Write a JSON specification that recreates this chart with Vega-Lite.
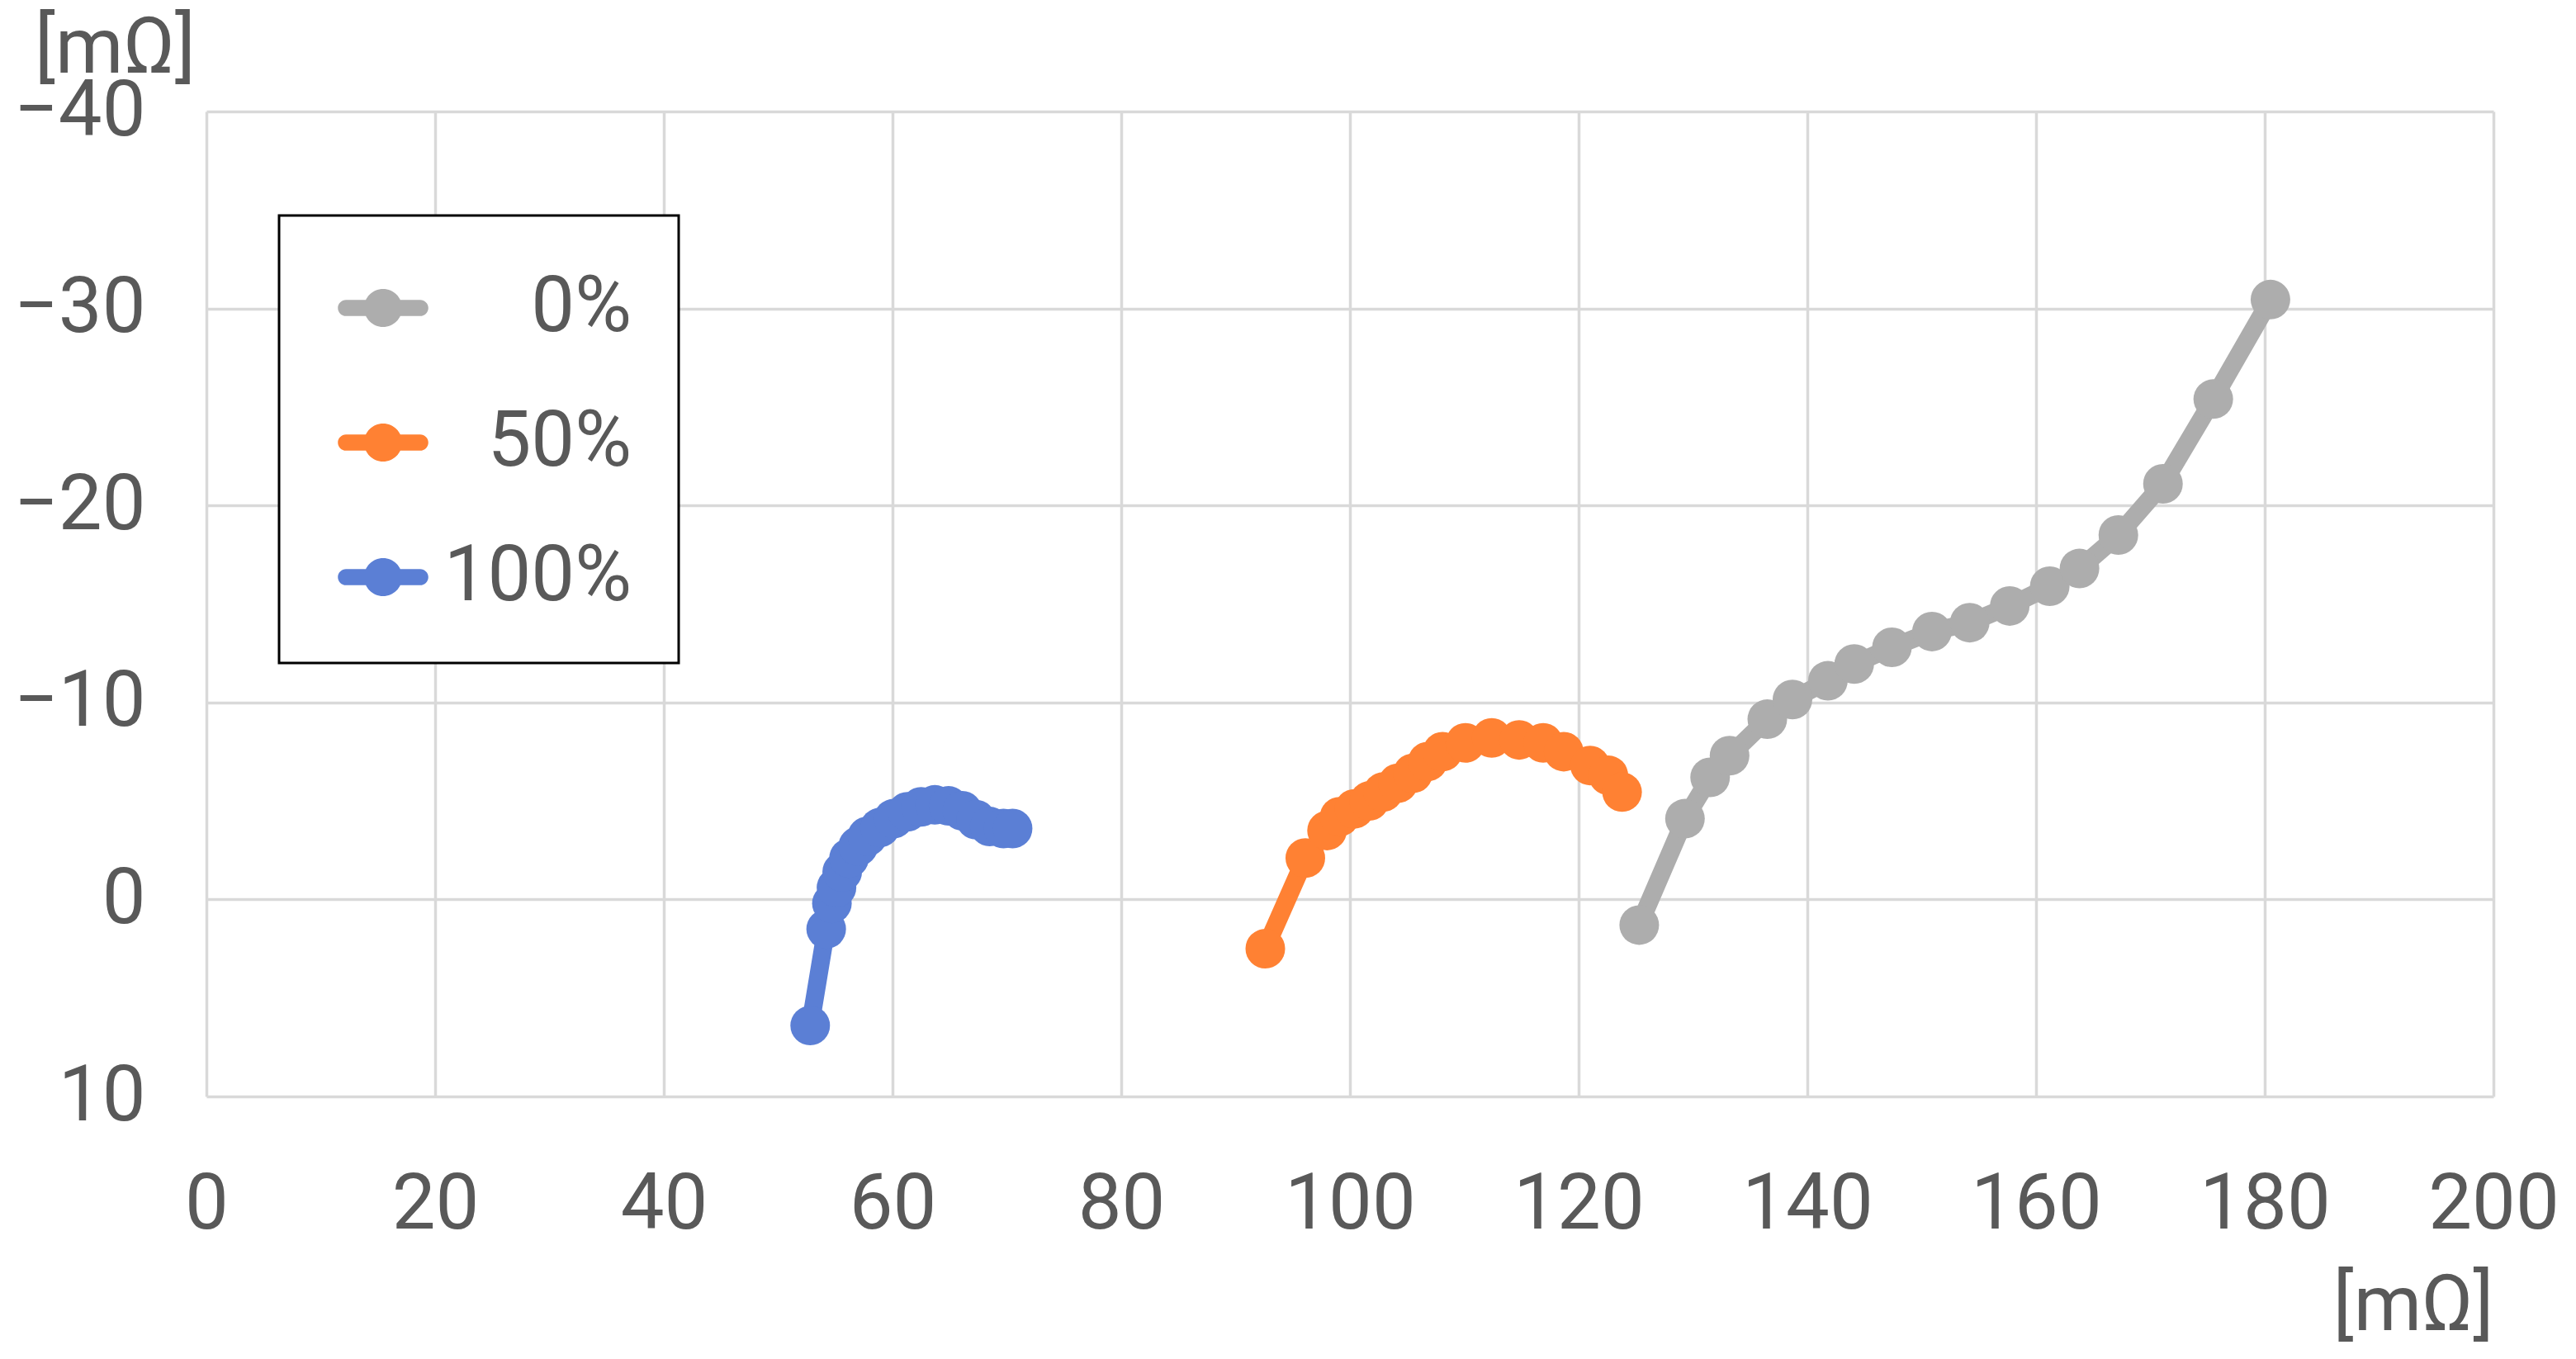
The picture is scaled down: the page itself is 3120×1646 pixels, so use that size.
{
  "$schema": "https://vega.github.io/schema/vega-lite/v6.json",
  "width": 2770,
  "height": 1193,
  "autosize": {"type": "none"},
  "padding": {"left": 250, "top": 135, "right": 100, "bottom": 318},
  "background": "#FFFFFF",
  "config": {"view": {"stroke": null}, "font": "Roboto"},
  "data": {
    "values": [
      {"s": "0%", "i": 1, "x": 125.3, "y": 1.3},
      {"s": "0%", "i": 2, "x": 129.3, "y": -4.1},
      {"s": "0%", "i": 3, "x": 131.5, "y": -6.2},
      {"s": "0%", "i": 4, "x": 133.2, "y": -7.3},
      {"s": "0%", "i": 5, "x": 136.5, "y": -9.15},
      {"s": "0%", "i": 6, "x": 138.7, "y": -10.15},
      {"s": "0%", "i": 7, "x": 141.8, "y": -11.1},
      {"s": "0%", "i": 8, "x": 144.1, "y": -11.95},
      {"s": "0%", "i": 9, "x": 147.4, "y": -12.8},
      {"s": "0%", "i": 10, "x": 150.9, "y": -13.6},
      {"s": "0%", "i": 11, "x": 154.2, "y": -14.05},
      {"s": "0%", "i": 12, "x": 157.7, "y": -14.9},
      {"s": "0%", "i": 13, "x": 161.2, "y": -15.9},
      {"s": "0%", "i": 14, "x": 163.8, "y": -16.8},
      {"s": "0%", "i": 15, "x": 167.2, "y": -18.5},
      {"s": "0%", "i": 16, "x": 171.1, "y": -21.1},
      {"s": "0%", "i": 17, "x": 175.5, "y": -25.4},
      {"s": "0%", "i": 18, "x": 180.5, "y": -30.45},
      {"s": "50%", "i": 1, "x": 92.6, "y": 2.5},
      {"s": "50%", "i": 2, "x": 96.1, "y": -2.1},
      {"s": "50%", "i": 3, "x": 98.0, "y": -3.5},
      {"s": "50%", "i": 4, "x": 99.1, "y": -4.2},
      {"s": "50%", "i": 5, "x": 100.4, "y": -4.6},
      {"s": "50%", "i": 6, "x": 101.7, "y": -5.0},
      {"s": "50%", "i": 7, "x": 102.9, "y": -5.45},
      {"s": "50%", "i": 8, "x": 104.2, "y": -5.9},
      {"s": "50%", "i": 9, "x": 105.5, "y": -6.4},
      {"s": "50%", "i": 10, "x": 106.8, "y": -7.0},
      {"s": "50%", "i": 11, "x": 108.1, "y": -7.5},
      {"s": "50%", "i": 12, "x": 110.1, "y": -7.95},
      {"s": "50%", "i": 13, "x": 112.4, "y": -8.2},
      {"s": "50%", "i": 14, "x": 114.8, "y": -8.1},
      {"s": "50%", "i": 15, "x": 116.9, "y": -7.95},
      {"s": "50%", "i": 16, "x": 118.7, "y": -7.5},
      {"s": "50%", "i": 17, "x": 121.0, "y": -6.8},
      {"s": "50%", "i": 18, "x": 122.6, "y": -6.3},
      {"s": "50%", "i": 19, "x": 123.8, "y": -5.45},
      {"s": "100%", "i": 1, "x": 52.8, "y": 6.4},
      {"s": "100%", "i": 2, "x": 54.2, "y": 1.5},
      {"s": "100%", "i": 3, "x": 54.7, "y": 0.2},
      {"s": "100%", "i": 4, "x": 55.1, "y": -0.6},
      {"s": "100%", "i": 5, "x": 55.6, "y": -1.4},
      {"s": "100%", "i": 6, "x": 56.2, "y": -2.1},
      {"s": "100%", "i": 7, "x": 57.0, "y": -2.7},
      {"s": "100%", "i": 8, "x": 57.8, "y": -3.2},
      {"s": "100%", "i": 9, "x": 58.9, "y": -3.65},
      {"s": "100%", "i": 10, "x": 60.1, "y": -4.1},
      {"s": "100%", "i": 11, "x": 61.3, "y": -4.45},
      {"s": "100%", "i": 12, "x": 62.5, "y": -4.7},
      {"s": "100%", "i": 13, "x": 63.7, "y": -4.8},
      {"s": "100%", "i": 14, "x": 64.9, "y": -4.75},
      {"s": "100%", "i": 15, "x": 66.1, "y": -4.5},
      {"s": "100%", "i": 16, "x": 67.3, "y": -4.05},
      {"s": "100%", "i": 17, "x": 68.5, "y": -3.7},
      {"s": "100%", "i": 18, "x": 69.7, "y": -3.6},
      {"s": "100%", "i": 19, "x": 70.5, "y": -3.6}
    ]
  },
  "encoding": {
    "x": {
      "field": "x",
      "type": "quantitative",
      "scale": {"domain": [0, 200], "nice": false, "zero": false},
      "axis": {
        "values": [0, 20, 40, 60, 80, 100, 120, 140, 160, 180, 200],
        "grid": true,
        "gridColor": "#D9D9D9",
        "gridWidth": 3.5,
        "domain": false,
        "ticks": false,
        "labelFontSize": 94,
        "labelColor": "#595959",
        "labelPadding": 85,
        "labelFlush": false,
        "labelOverlap": false,
        "title": "[mΩ]",
        "titleFontSize": 94,
        "titleFontWeight": "normal",
        "titleColor": "#595959",
        "titleAnchor": "end",
        "titleAlign": "right",
        "titleBaseline": "alphabetic",
        "titleY": 282
      }
    },
    "y": {
      "field": "y",
      "type": "quantitative",
      "scale": {"domain": [-40, 10], "reverse": true, "nice": false, "zero": false},
      "axis": {
        "values": [-40, -30, -20, -10, 0, 10],
        "grid": true,
        "gridColor": "#D9D9D9",
        "gridWidth": 3.5,
        "domain": false,
        "ticks": false,
        "labelFontSize": 94,
        "labelColor": "#595959",
        "labelPadding": 74,
        "labelFlush": false,
        "labelOverlap": false,
        "title": "[mΩ]",
        "titleFontSize": 94,
        "titleFontWeight": "normal",
        "titleColor": "#595959",
        "titleAngle": 0,
        "titleAlign": "center",
        "titleBaseline": "alphabetic",
        "titleX": -111,
        "titleY": -48
      }
    },
    "color": {
      "field": "s",
      "type": "nominal",
      "scale": {"domain": ["0%", "50%", "100%"], "range": ["#ADADAD", "#FF8133", "#5B7FD5"]},
      "legend": {
        "orient": "none",
        "legendX": 88,
        "legendY": 126,
        "direction": "vertical",
        "title": null,
        "symbolType": "M-0.82,-0.18 L0.82,-0.18 A0.18,0.18 0 0,1 0.82,0.18 L-0.82,0.18 A0.18,0.18 0 0,1 -0.82,-0.18 Z M-0.42,0 A0.42,0.42 0 1,1 0.42,0 A0.42,0.42 0 1,1 -0.42,0 Z",
        "symbolSize": 12000,
        "symbolOffset": 14,
        "symbolStrokeWidth": 0,
        "labelFontSize": 94,
        "labelColor": "#595959",
        "labelAlign": "right",
        "labelOffset": 246,
        "labelLimit": 1000,
        "padding": 57,
        "rowPadding": 61,
        "strokeColor": "#000000",
        "fillColor": "#FFFFFF",
        "cornerRadius": 0,
        "encode": {
          "legend": {
            "update": {
              "strokeWidth": {"value": 3}
            }
          },
          "symbols": {
            "update": {
              "fill": {"scale": "color", "field": "value"},
              "stroke": {"value": "transparent"},
              "opacity": {"value": 1}
            }
          }
        }
      }
    },
    "order": {"field": "i", "type": "quantitative"}
  },
  "layer": [
    {
      "mark": {"type": "line", "strokeWidth": 22, "strokeCap": "round", "strokeJoin": "round"}
    },
    {
      "mark": {"type": "point", "filled": true, "size": 2304, "opacity": 1, "shape": "circle"}
    }
  ]
}
